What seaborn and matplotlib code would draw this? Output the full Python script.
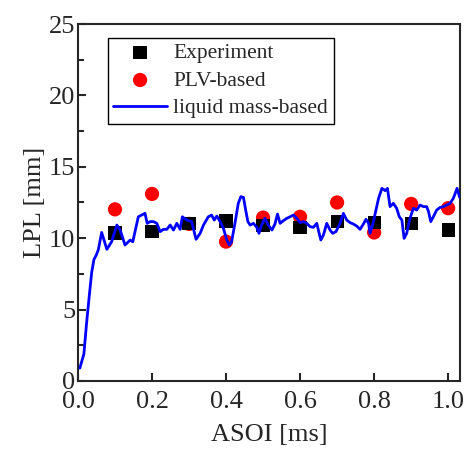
import numpy as np
import pandas as pd
import matplotlib
matplotlib.use('Agg')
import matplotlib.pyplot as plt
import seaborn as sns
from matplotlib.ticker import MultipleLocator

# measured points
asoi_pts = [0.1, 0.2, 0.3, 0.4, 0.5, 0.6, 0.7, 0.8, 0.9, 1.0]
lpl_exp = [10.36, 10.45, 11.0, 11.2, 10.9, 10.75, 11.15, 11.1, 11.0, 10.57]
lpl_plv = [12.02, 13.1, 11.0, 9.76, 11.44, 11.5, 12.5, 10.4, 12.4, 12.1]

# liquid mass-based curve (traced)
asoi_line = [0.005, 0.016, 0.023, 0.031, 0.037, 0.043, 0.05, 0.055, 0.064, 0.078, 0.091,
             0.105, 0.114, 0.127, 0.141, 0.148, 0.163, 0.172, 0.181, 0.187, 0.195, 0.204,
             0.213, 0.222, 0.231, 0.24, 0.249, 0.258, 0.267, 0.276, 0.282, 0.294, 0.307,
             0.319, 0.33, 0.339, 0.352, 0.361, 0.368, 0.375, 0.384, 0.393, 0.402, 0.409,
             0.415, 0.424, 0.433, 0.44, 0.447, 0.453, 0.459, 0.465, 0.474, 0.483, 0.489,
             0.496, 0.505, 0.514, 0.524, 0.532, 0.539, 0.546, 0.555, 0.564, 0.573, 0.582,
             0.591, 0.6, 0.609, 0.618, 0.627, 0.636, 0.645, 0.656, 0.663, 0.672, 0.681,
             0.688, 0.697, 0.708, 0.717, 0.726, 0.735, 0.744, 0.753, 0.762, 0.771, 0.778,
             0.785, 0.789, 0.796, 0.803, 0.812, 0.821, 0.83, 0.836, 0.843, 0.852, 0.861,
             0.868, 0.875, 0.881, 0.888, 0.897, 0.906, 0.915, 0.924, 0.933, 0.942, 0.947,
             0.953, 0.96, 0.969, 0.978, 0.987, 0.996, 1.005, 1.014, 1.024, 1.031]
lpl_line = [0.9, 1.9, 4.0, 6.1, 7.6, 8.5, 8.85, 9.2, 10.4, 9.22, 9.76,
            10.92, 10.57, 9.52, 9.87, 9.75, 11.5, 11.62, 11.74, 11.04, 11.16, 11.16,
            11.04, 10.46, 10.62, 10.62, 10.92, 10.57, 11.04, 10.62, 11.5, 11.27, 11.16,
            9.92, 10.34, 10.92, 11.5, 11.62, 11.27, 11.55, 11.16, 10.68, 9.87, 9.52,
            9.76, 11.04, 12.44, 12.91, 12.86, 11.97, 11.16, 10.92, 11.04, 10.76, 10.34,
            10.92, 11.39, 10.92, 10.57, 10.99, 11.69, 11.04, 11.23, 11.39, 11.5, 11.62,
            11.39, 11.09, 11.16, 11.04, 10.81, 10.76, 11.04, 9.87, 10.22, 11.04, 10.57,
            10.34, 10.46, 11.04, 11.74, 11.27, 11.09, 10.99, 10.85, 10.62, 10.99, 11.32,
            11.04, 10.34, 10.92, 11.74, 12.79, 13.49, 13.33, 13.49, 12.21, 12.44, 12.09,
            11.5, 11.27, 9.99, 10.34, 11.39, 12.09, 11.97, 12.32, 12.21, 12.21, 11.86,
            11.16, 11.5, 11.97, 12.15, 12.21, 12.32, 12.44, 12.79, 13.49, 12.86]

sns.set_style('ticks')
plt.rcParams['font.family'] = ['Liberation Serif', 'DejaVu Serif']

fig = plt.figure(figsize=(4.67, 4.53), dpi=100)
ax = fig.add_axes([0.167, 0.159, 0.818, 0.788])

sns.scatterplot(x=asoi_pts, y=lpl_exp, marker='s', s=90, color='black',
                edgecolor='none', label='Experiment', ax=ax, zorder=3)
sns.scatterplot(x=asoi_pts, y=lpl_plv, marker='o', s=105, color='red',
                edgecolor='none', label='PLV-based', ax=ax, zorder=2)
sns.lineplot(x=asoi_line, y=lpl_line, color='blue', lw=2.0, estimator=None,
             sort=False, label='liquid mass-based', ax=ax, zorder=4)

ax.set_xlim(0, 1.032)
ax.set_ylim(0, 25)
ax.xaxis.set_major_locator(MultipleLocator(0.2))
ax.yaxis.set_major_locator(MultipleLocator(5))
ax.yaxis.set_minor_locator(MultipleLocator(2.5))
ax.xaxis.set_major_formatter(matplotlib.ticker.FormatStrFormatter('%.1f'))
ax.tick_params(axis='both', which='major', direction='in', length=6, width=1.5,
               labelsize=19)
ax.tick_params(axis='x', which='major', pad=7)
ax.tick_params(axis='y', which='major', pad=2)
ax.tick_params(axis='y', which='minor', direction='in', length=4, width=1.5)
for sp in ax.spines.values():
    sp.set_linewidth(1.5)
    sp.set_visible(True)

ax.set_xlabel('ASOI [ms]', fontsize=19, labelpad=8)
ax.set_ylabel('LPL [mm]', fontsize=19, labelpad=2)

leg = ax.legend(loc='upper left', bbox_to_anchor=(0.078, 0.962), fontsize=15.5,
                frameon=True, fancybox=False, edgecolor='black', framealpha=1,
                borderpad=0.25, labelspacing=0.35, handlelength=2.5, handletextpad=0.3,
                borderaxespad=0)
leg.get_frame().set_linewidth(1.0)

fig.savefig('out.png', dpi=100)
